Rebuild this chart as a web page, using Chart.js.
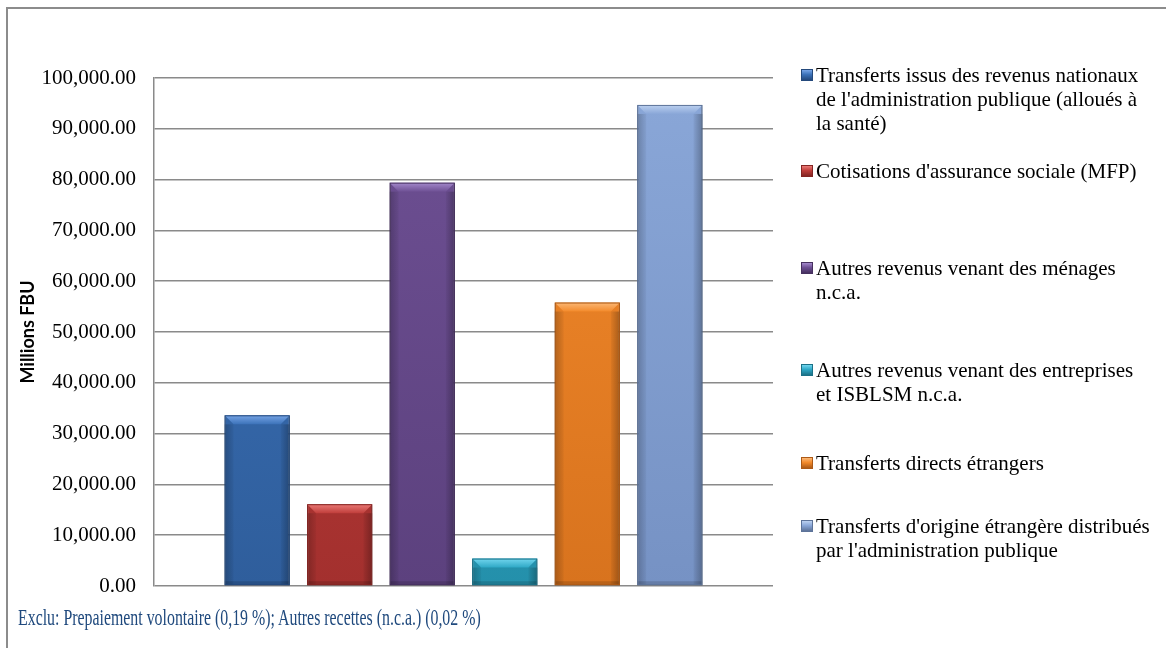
<!DOCTYPE html>
<html lang="fr">

<head>
  <meta charset="UTF-8" />
  <title>Recettes des régimes de financement</title>
  <style>
    * {
      margin: 0;
      padding: 0;
    }

    body {
      width: 1166px;
      height: 648px;
      overflow: hidden;
      background: #ffffff;
      position: relative;
      font-family: "Liberation Serif", "Times New Roman", serif;
    }

    .frame {
      position: absolute;
      left: 6px;
      top: 7px;
      width: 1200px;
      height: 700px;
      border: 2px solid #8c8c8c;
    }

    .chartBox {
      position: absolute;
      left: 0;
      top: 0;
      width: 1166px;
      height: 648px;
    }

    .legend {
      position: absolute;
      left: 801px;
      top: 0;
    }

    .legendItem {
      position: absolute;
      left: 0;
      font-size: 21px;
      line-height: 24px;
      color: #000;
      white-space: nowrap;
    }

    .legendItem .box {
      position: absolute;
      left: 0;
      top: 6px;
      width: 12px;
      height: 12px;
    }

    .legendItem .txt {
      padding-left: 15px;
    }

    .note {
      position: absolute;
      left: 18px;
      top: 604px;
      font-size: 23px;
      line-height: 28px;
      color: #1f497d;
      white-space: nowrap;
      transform: scaleX(0.69);
      transform-origin: 0 0;
    }
  </style>
</head>

<body>
  <div class="frame"></div>
  <div class="chartBox">
    <canvas id="myChart" width="1166" height="648"></canvas>
  </div>
  <div class="legend" id="legend"></div>
  <div class="note" id="note"></div>
  <script src="https://cdn.jsdelivr.net/npm/chart.js"></script>
  <script>
    const categories = [""];

    const seriesNames = [
      ["Transferts issus des revenus nationaux", "de l'administration publique (alloués à", "la santé)"],
      ["Cotisations d'assurance sociale (MFP)"],
      ["Autres revenus venant des ménages", "n.c.a."],
      ["Autres revenus venant des entreprises", "et ISBLSM n.c.a."],
      ["Transferts directs étrangers"],
      ["Transferts d'origine étrangère distribués", "par l'administration publique"]
    ];

    const seriesValues = [33600, 16100, 79400, 5400, 55800, 94700];

    const yTicks = [0, 10000, 20000, 30000, 40000, 50000, 60000, 70000, 80000, 90000, 100000];

    const axisTitle = "Millions FBU";
    const noteText = "Exclu: Prepaiement volontaire (0,19 %); Autres recettes (n.c.a.) (0,02 %)";

    // bar body top, body bottom, dark edge, light top bevel
    const mainColors = ["#3c72b9", "#c03e3b", "#6e5094", "#2ea8c6", "#f38a2b", "#8aa7d8"];
    const lowColors = ["#2f5e9c", "#a3302e", "#5c417e", "#2490ab", "#d8731e", "#7692c4"];
    const darkColors = ["#24497c", "#842523", "#46305f", "#1b7187", "#ad5a16", "#5d7399"];
    const lightColors = ["#77a5e6", "#ea7a77", "#a489cc", "#72d6ee", "#fbb876", "#bcd1f0"];

    // legend line centres (px)
    const legendTops = [75, 171, 268, 370, 463, 526];

    const legend = document.getElementById("legend");
    seriesNames.forEach((lines, i) => {
      const item = document.createElement("div");
      item.className = "legendItem";
      item.style.top = (legendTops[i] - 12) + "px";
      const box = document.createElement("span");
      box.className = "box";
      box.style.background = "linear-gradient(180deg," + lightColors[i] + " 0%," + mainColors[i] + " 45%," + darkColors[i] + " 100%)";
      box.style.border = "1px solid " + darkColors[i];
      box.style.boxSizing = "border-box";
      item.appendChild(box);
      const txt = document.createElement("div");
      txt.className = "txt";
      txt.innerHTML = lines.join("<br>");
      item.appendChild(txt);
      legend.appendChild(item);
    });
    document.getElementById("note").textContent = noteText;

    const datasets = seriesNames.map((lines, i) => ({
      label: lines.join(" "),
      data: [seriesValues[i]],
      backgroundColor: function (context) {
        const area = context.chart.chartArea;
        if (!area) return mainColors[i];
        const g = context.chart.ctx.createLinearGradient(0, area.top, 0, area.bottom);
        g.addColorStop(0, mainColors[i]);
        g.addColorStop(1, lowColors[i]);
        return g;
      },
      borderColor: darkColors[i],
      borderWidth: 1,
      barPercentage: 0.79,
      categoryPercentage: 0.8
    }));

    const bevelPlugin = {
      id: "bevel",
      beforeDatasetsDraw(chart) {
        const ctx = chart.ctx;
        ctx.save();
        ctx.shadowColor = "rgba(0,0,0,0.25)";
        ctx.shadowBlur = 5;
        ctx.shadowOffsetX = 1;
        ctx.shadowOffsetY = 1;
      },
      afterDatasetsDraw(chart) {
        const ctx = chart.ctx;
        ctx.restore();
        chart.data.datasets.forEach((ds, i) => {
          chart.getDatasetMeta(i).data.forEach(bar => {
            const p = bar.getProps(["x", "y", "base", "width"], true);
            const l = p.x - p.width / 2;
            const r = p.x + p.width / 2;
            const h = p.base - p.y;
            const b = Math.min(9, h / 2);
            ctx.save();
            // side bevels
            const lg = ctx.createLinearGradient(l, 0, l + b, 0);
            lg.addColorStop(0, "rgba(0,0,0,0.22)");
            lg.addColorStop(1, "rgba(0,0,0,0.04)");
            ctx.fillStyle = lg;
            ctx.fillRect(l, p.y + b, b, h - b);
            const rg = ctx.createLinearGradient(r - b, 0, r, 0);
            rg.addColorStop(0, "rgba(0,0,0,0.04)");
            rg.addColorStop(1, "rgba(0,0,0,0.28)");
            ctx.fillStyle = rg;
            ctx.fillRect(r - b, p.y + b, b, h - b);
            // top bevel
            const tg = ctx.createLinearGradient(0, p.y, 0, p.y + b);
            tg.addColorStop(0, lightColors[i]);
            tg.addColorStop(1, mainColors[i]);
            ctx.fillStyle = tg;
            ctx.beginPath();
            ctx.moveTo(l, p.y);
            ctx.lineTo(r, p.y);
            ctx.lineTo(r - b, p.y + b);
            ctx.lineTo(l + b, p.y + b);
            ctx.closePath();
            ctx.fill();
            // bottom edge
            ctx.fillStyle = "rgba(0,0,0,0.14)";
            ctx.fillRect(l, p.base - 4, p.width, 4);
            ctx.strokeStyle = darkColors[i];
            ctx.lineWidth = 1;
            ctx.strokeRect(l + 0.5, p.y + 0.5, p.width - 1, h - 1);
            ctx.restore();
          });
        });
      }
    };

    const options = {
      responsive: false,
      animation: false,
      layout: {
        padding: { left: 0, top: 78, right: 393, bottom: 62 }
      },
      plugins: {
        legend: { display: false },
        tooltip: { enabled: false }
      },
      scales: {
        x: {
          ticks: { display: false },
          grid: { display: false },
          border: { display: false },
          afterFit: function (scale) { scale.height = 0; }
        },
        y: {
          min: 0,
          max: 100000,
          afterBuildTicks: function (scale) {
            scale.ticks = yTicks.map(v => ({ value: v }));
          },
          ticks: {
            padding: 18,
            color: "#000",
            font: { family: "'Liberation Serif', 'Times New Roman', serif", size: 21 },
            callback: function (value) {
              return Number(value).toLocaleString("en-US", { minimumFractionDigits: 2, maximumFractionDigits: 2 });
            }
          },
          grid: { color: "#8a8a8a", lineWidth: 1.5, drawTicks: false },
          border: { display: true, color: "#8a8a8a", width: 1.5 },
          title: {
            display: true,
            text: axisTitle,
            color: "#000",
            padding: { top: 17, bottom: 0 },
            font: { family: "Lato, 'Liberation Sans', sans-serif", size: 18, weight: "bold" }
          },
          afterFit: function (scale) { scale.width = 154; }
        }
      }
    };

    const ctx = document.getElementById("myChart").getContext("2d");
    const myChart = new Chart(ctx, {
      type: "bar",
      data: { labels: categories, datasets: datasets },
      options: options,
      plugins: [bevelPlugin]
    });
  </script>
</body>

</html>
